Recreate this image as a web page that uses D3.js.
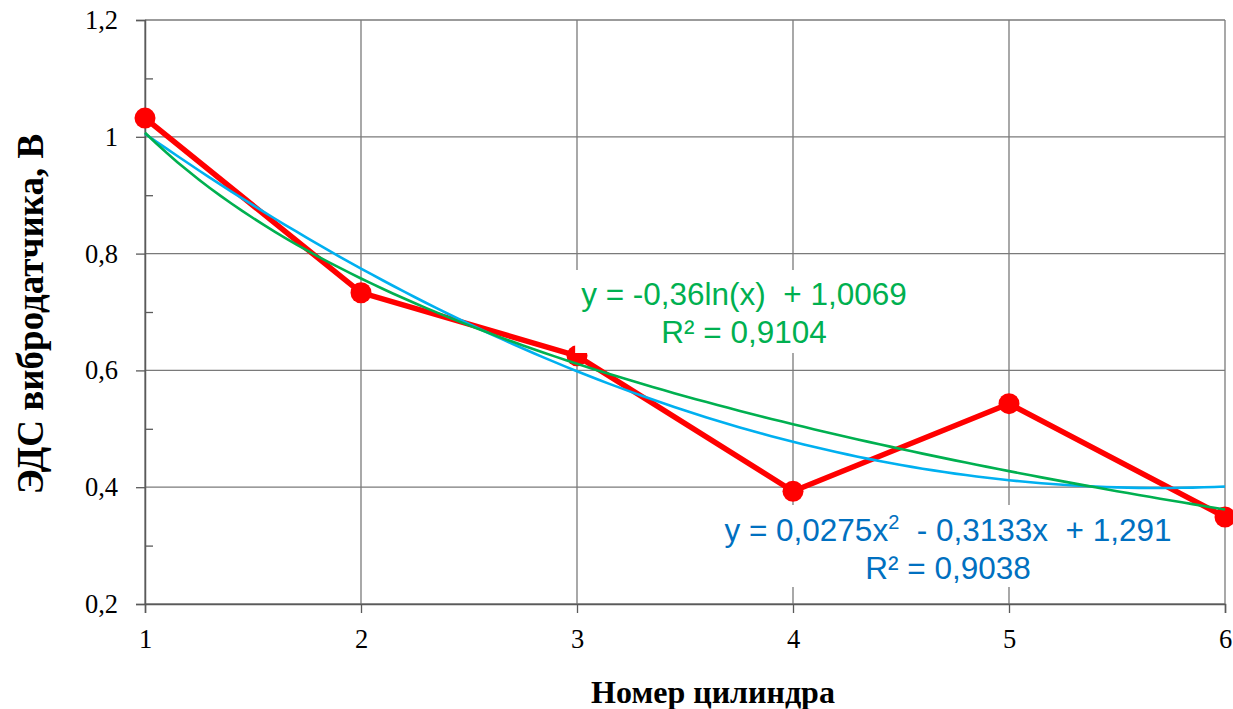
<!DOCTYPE html>
<html><head><meta charset="utf-8">
<script src="https://cdn.jsdelivr.net/npm/d3@7"></script>
<style>body{margin:0;background:#fff}svg{display:block}</style>
</head><body>
<script>
const categories = [1, 2, 3, 4, 5, 6];
const emfValues = [1.032, 0.733, 0.625, 0.393, 0.543, 0.349];
const yTicks = [0.2, 0.4, 0.6, 0.8, 1.0, 1.2];
const yMinorTicks = [0.3, 0.5, 0.7, 0.9, 1.1];
const logCoef = [-0.36, 1.0069];          // y = a*ln(x) + b
const polyCoef = [0.0275, -0.3133, 1.291]; // y = a x^2 + b x + c
const xTitle = "Номер цилиндра";
const yTitle = "ЭДС вибродатчика, В";

const W = 1233, H = 709;
const m = {left: 145, right: 8, top: 20, bottom: 105};
const svg = d3.select("body").append("svg").attr("width", W).attr("height", H);
const x = d3.scaleLinear().domain([1, 6]).range([m.left, W - m.right]);
const y = d3.scaleLinear().domain([0.2, 1.2]).range([H - m.bottom, m.top]);
const fmt = v => (Math.abs(v - 1) < 1e-9 ? "1" : d3.format(".1f")(v).replace(".", ","));

const gridColor = "#7a7a7a";
// gridlines
svg.append("g").selectAll("line").data(yTicks).join("line")
  .attr("x1", x(1)).attr("x2", x(6)).attr("y1", d => y(d)).attr("y2", d => y(d))
  .attr("stroke", gridColor).attr("stroke-width", 1.3);
svg.append("g").selectAll("line").data(categories).join("line")
  .attr("y1", y(0.2)).attr("y2", y(1.2)).attr("x1", d => x(d)).attr("x2", d => x(d))
  .attr("stroke", gridColor).attr("stroke-width", 1.3);

// y axis
const yAxis = svg.append("g").attr("transform", `translate(${x(1)},0)`)
  .call(d3.axisLeft(y).tickValues(yTicks).tickFormat(fmt).tickSize(9).tickPadding(18));
yAxis.select(".domain").attr("stroke", "#5a5a5a").attr("stroke-width", 1.5);
yAxis.selectAll(".tick line").attr("stroke", "#5a5a5a").attr("stroke-width", 1.3);
yAxis.selectAll("text").attr("font-family", "'Liberation Serif', serif").attr("font-size", 26.5).attr("fill", "#000");
const yMinor = svg.append("g").attr("transform", `translate(${x(1)},0)`)
  .call(d3.axisRight(y).tickValues(yMinorTicks).tickFormat("").tickSize(8));
yMinor.select(".domain").remove();
yMinor.selectAll(".tick line").attr("stroke", "#5a5a5a").attr("stroke-width", 1.3);

// x axis
const xAxis = svg.append("g").attr("transform", `translate(0,${y(0.2)})`)
  .call(d3.axisBottom(x).tickValues(categories).tickFormat(d3.format("d")).tickSize(9).tickPadding(16));
xAxis.select(".domain").attr("stroke", "#5a5a5a").attr("stroke-width", 1.5);
xAxis.selectAll(".tick line").attr("stroke", "#5a5a5a").attr("stroke-width", 1.3);
xAxis.selectAll("text").attr("font-family", "'Liberation Serif', serif").attr("font-size", 26.5).attr("fill", "#000");

// data series
svg.append("path").datum(categories.map((c, i) => [c, emfValues[i]]))
  .attr("fill", "none").attr("stroke", "#ff0000").attr("stroke-width", 5.5).attr("stroke-linejoin", "round")
  .attr("d", d3.line().x(d => x(d[0])).y(d => y(d[1])));
svg.append("g").selectAll("circle").data(categories.map((c, i) => [c, emfValues[i]])).join("circle")
  .attr("cx", d => x(d[0])).attr("cy", d => y(d[1])).attr("r", 10.5).attr("fill", "#ff0000");

// trendlines
const xs = d3.range(1, 6.0001, 0.05);
svg.append("path").datum(xs.map(v => [v, polyCoef[0] * v * v + polyCoef[1] * v + polyCoef[2]]))
  .attr("fill", "none").attr("stroke", "#00b0f0").attr("stroke-width", 2.6)
  .attr("d", d3.line().x(d => x(d[0])).y(d => y(d[1])));
svg.append("path").datum(xs.map(v => [v, logCoef[0] * Math.log(v) + logCoef[1]]))
  .attr("fill", "none").attr("stroke", "#00b050").attr("stroke-width", 2.6)
  .attr("d", d3.line().x(d => x(d[0])).y(d => y(d[1])));

// trendline labels
function label(cx, base1, color, build1, line2, padX, padTop, bottom) {
  const g = svg.append("g");
  const rect = g.append("rect").attr("fill", "#fff");
  const t = g.append("text").attr("font-family", "'Liberation Sans', Arial, sans-serif")
    .attr("font-size", 31.5).attr("fill", color).attr("text-anchor", "middle");
  const t1 = t.append("tspan").attr("x", cx).attr("y", base1);
  build1(t1);
  t.append("tspan").attr("x", cx).attr("y", base1 + 38).text(line2);
  const bb = t.node().getBBox();
  rect.attr("x", bb.x - padX).attr("y", bb.y - padTop).attr("width", bb.width + 2 * padX)
    .attr("height", bottom - (bb.y - padTop));
}
label(744, 305, "#00b050", s => {
  s.text("y = -0,36ln(x)\u00a0\u00a0+ 1,0069");
}, "R² = 0,9104", 6, 6, 353);
label(948, 541, "#0070c0", s => {
  s.append("tspan").text("y = 0,0275x");
  s.append("tspan").attr("font-size", 20).attr("dy", -12).text("2");
  s.append("tspan").attr("dy", 12).text("\u00a0\u00a0- 0,3133x\u00a0\u00a0+ 1,291");
}, "R² = 0,9038", 6, 6, 587);

// axis titles
svg.append("text").attr("x", 713).attr("y", 703).attr("text-anchor", "middle")
  .attr("font-family", "'Liberation Serif', serif").attr("font-weight", "bold").attr("font-size", 32).text(xTitle);
svg.append("text").attr("transform", `translate(43,314) rotate(-90)`).attr("text-anchor", "middle")
  .attr("font-family", "'Liberation Serif', serif").attr("font-weight", "bold").attr("font-size", 37).text(yTitle);
</script>
</body></html>
